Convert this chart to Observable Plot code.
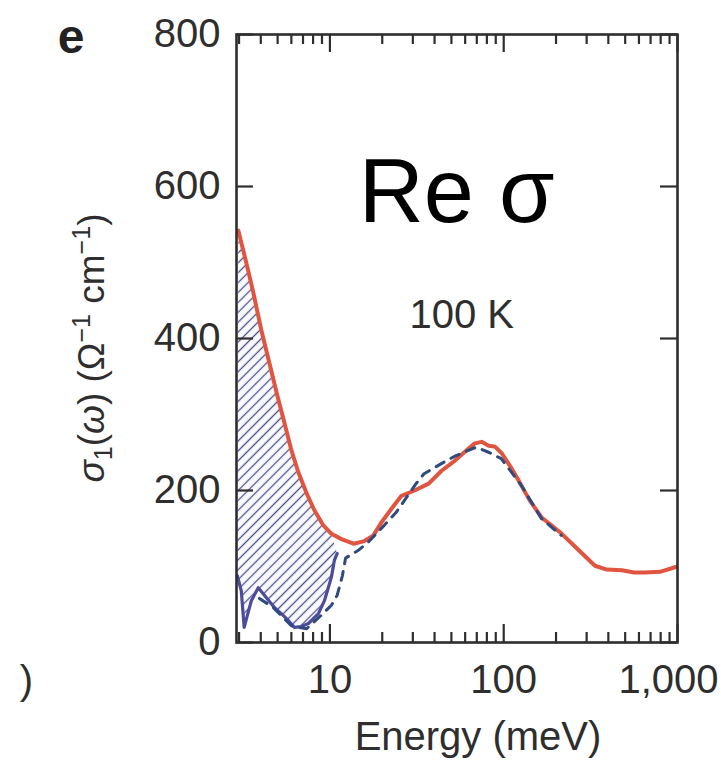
<!DOCTYPE html>
<html><head><meta charset="utf-8">
<script src="https://cdn.jsdelivr.net/npm/d3@7"></script>
<script src="https://cdn.jsdelivr.net/npm/@observablehq/plot@0.6"></script>
<style>
html,body{margin:0;padding:0;background:#fff;}
#chart{width:721px;height:761px;overflow:hidden;}
</style></head><body><div id="chart"></div>
<script>
// Measured optical conductivity (red), low-energy component (blue solid), model (blue dashed)
const redEnergy = [2.97,3.30,3.62,4.03,4.48,4.98,5.47,6.00,6.58,7.32,8.14,9.17,10.2,11.65,13.66,15.6,17.8,19.8,22.6,25.8,30.7,37.0,43.9,52.2,61.2,68.1,74.7,81.9,88.7,97.4,111,122,141,166,189,216,263,335,392,479,562,650,793,967,1000];
const redSigma  = [542,500,461,411,368,325,289,253,224,197,174,154,143,136,130,133,141,158,176,193,200,209,226,239,253,262,264,259,258,249,229,213,187,164,154,143,124,101,96,95,92,92,93,99,100];

const blueEnergy = [2.93,3.09,3.21,3.53,3.87,4.31,4.79,5.25,5.76,6.24,6.85,7.52,8.59,9.30,10.2,10.6,11.0];
const blueSigma  = [88,68,20,55,72,59,46,38,29,20,21,25,38,55,86,108,117];

const dashEnergy = [3.93,4.72,6.0,7.33,8.93,10.2,11.0,11.8,12.3,14.5,16.6,20.5,24.0,31.3,34.8,46.6,53.2,69.4,82.4,96.8,126,165,214];
const dashSigma  = [58,46,22,18,36,49,62,88,111,121,132,154,171,209,222,239,246,257,250,242,207,163,141];

const xMajorTicks = [10, 100, 1000];
const xMinorTicks = [3,4,5,6,7,8,9,20,30,40,50,60,70,80,90,200,300,400,500,600,700,800,900];
const xLabelTicksCentered = [10, 100];
const xLabelTicksEnd = [1000];
const yTicks = [0, 200, 400, 600, 800];

const annoTitle = "Re σ";
const annoTemp = "100 K";
const xLabel = "Energy (meV)";
const panelLetter = "e";

// tables
const red = redEnergy.map((e, i) => ({e, s: redSigma[i]}));
const blue = blueEnergy.map((e, i) => ({e, s: blueSigma[i]}));
const dash = dashEnergy.map((e, i) => ({e, s: dashSigma[i]}));
const hatchMax = 10.2;
const hatch = red.filter(d => d.e <= hatchMax).concat(blue.slice().reverse());

const W = 721, H = 761;
const mL = 236, mR = 44, mT = 34, mB = 119;
const fw = W - mL - mR, fh = H - mT - mB;
const ink = "#2e2e2e";
const redC = "#e0553f";
const blueC = "#4d4c9c";
const dashC = "#2f4a7e";
const fmt = d3.format(",");

const plot = Plot.plot({
  width: W, height: H,
  marginLeft: mL, marginRight: mR, marginTop: mT, marginBottom: mB,
  style: {fontFamily: "'Liberation Sans', Arial, Helvetica, sans-serif", color: ink, background: "#fff"},
  x: {type: "log", domain: [2.9, 1000]},
  y: {domain: [0, 800]},
  marks: [
    Plot.line(hatch, {x: "e", y: "s", fill: "url(#hatch)", stroke: "none", clip: true}),
    Plot.line(blue, {x: "e", y: "s", stroke: blueC, strokeWidth: 3.2, clip: true}),
    Plot.line(red, {x: "e", y: "s", stroke: redC, strokeWidth: 4, clip: true}),
    Plot.line(dash, {x: "e", y: "s", stroke: dashC, strokeWidth: 3, strokeDasharray: "9,8", clip: true}),
    // ticks (inward) on all four sides
    Plot.ruleX(xMajorTicks, {x: d => d, insetTop: fh - 18, stroke: ink, strokeWidth: 2.2}),
    Plot.ruleX(xMinorTicks, {x: d => d, insetTop: fh - 10, stroke: ink, strokeWidth: 2.2}),
    Plot.ruleX(xMajorTicks, {x: d => d, insetBottom: fh - 18, stroke: ink, strokeWidth: 2.2}),
    Plot.ruleX(xMinorTicks, {x: d => d, insetBottom: fh - 10, stroke: ink, strokeWidth: 2.2}),
    Plot.ruleY(yTicks, {y: d => d, insetRight: fw - 17, stroke: ink, strokeWidth: 2.2}),
    Plot.ruleY(yTicks, {y: d => d, insetLeft: fw - 17, stroke: ink, strokeWidth: 2.2}),
    Plot.frame({stroke: ink, strokeWidth: 2.6}),
    Plot.axisX({ticks: xLabelTicksCentered, tickSize: 0, tickPadding: 22, fontSize: 40, tickFormat: fmt, label: null}),
    Plot.axisX({ticks: xLabelTicksEnd, tickSize: 0, tickPadding: 22, fontSize: 40, tickFormat: fmt, textAnchor: "end", dx: 41, label: null}),
    Plot.axisY({ticks: yTicks, tickSize: 0, tickPadding: 16, fontSize: 40, label: null}),
    Plot.text([annoTitle], {x: 53.6, y: 553, text: d => d, fontSize: 90, fill: "#000", textAnchor: "middle", lineAnchor: "bottom"}),
    Plot.text([annoTemp], {x: 57.3, y: 414, text: d => d, fontSize: 40, fill: ink, textAnchor: "middle", lineAnchor: "bottom"})
  ]
});

const svg = d3.select(plot);
const defs = svg.insert("defs", ":first-child");
const pat = defs.append("pattern")
  .attr("id", "hatch")
  .attr("patternUnits", "userSpaceOnUse")
  .attr("width", 10).attr("height", 7)
  .attr("patternTransform", "rotate(-45)");
pat.append("rect").attr("width", 10).attr("height", 7).attr("fill", "#fbfbff");
pat.append("path").attr("d", "M0,3.5H10").attr("stroke", "#46518c").attr("stroke-width", 1.3);

// panel letter
svg.append("text").attr("x", 71).attr("y", 53)
  .attr("font-size", 48).attr("font-weight", "bold").attr("fill", "#222").text(panelLetter);

// x label
svg.append("text").attr("x", 478).attr("y", 750).attr("text-anchor", "middle")
  .attr("font-size", 40).attr("fill", ink).text(xLabel);

// fragment of neighbouring panel's label at far left
svg.append("text").attr("x", 33).attr("y", 694).attr("text-anchor", "end")
  .attr("font-size", 40).attr("fill", ink).text(")");

// y label with sub/superscripts
const yl = svg.append("text")
  .attr("transform", "translate(104,348) rotate(-90)")
  .attr("text-anchor", "middle").attr("font-size", 37).attr("fill", ink);
yl.append("tspan").attr("font-style", "italic").text("σ");
yl.append("tspan").attr("font-size", 25).attr("dy", 8).text("1");
yl.append("tspan").attr("dy", -8).text("(");
yl.append("tspan").attr("font-style", "italic").text("ω");
yl.append("tspan").text(") (Ω");
yl.append("tspan").attr("font-size", 25).attr("dy", -14).text("−1");
yl.append("tspan").attr("dy", 14).text(" cm");
yl.append("tspan").attr("font-size", 25).attr("dy", -14).text("−1");
yl.append("tspan").attr("dy", 14).text(")");

document.getElementById("chart").appendChild(plot);
</script>
</body></html>
